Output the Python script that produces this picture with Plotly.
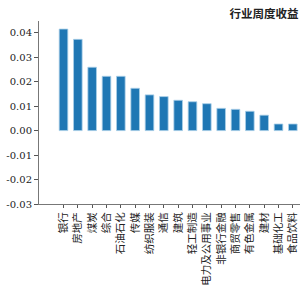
import plotly.graph_objects as go

categories = ["银行", "房地产", "煤炭", "综合", "石油石化", "传媒", "纺织服装", "通信", "建筑",
              "轻工制造", "电力及公用事业", "非银行金融", "商贸零售", "有色金属", "建材", "基础化工", "食品饮料"]
values = [0.0415, 0.0373, 0.0259, 0.0222, 0.0222, 0.0173, 0.0146, 0.0139, 0.0124,
          0.0118, 0.0110, 0.0091, 0.0087, 0.0079, 0.0063, 0.0027, 0.0027]
y_ticks = [0.04, 0.03, 0.02, 0.01, 0.00, -0.01, -0.02, -0.03]
title = "行业周度收益"

x_idx = list(range(len(categories)))

fig = go.Figure(go.Bar(
    x=x_idx, y=values, width=0.6,
    marker=dict(color="#1f77b4", line=dict(color="#a9cfe8", width=0.8)),
))
fig.update_layout(
    width=300, height=300,
    margin=dict(l=39, r=0, t=21, b=96),
    paper_bgcolor="white", plot_bgcolor="white",
    showlegend=False,
    font=dict(family="DejaVu Serif, Noto Sans CJK SC", color="#222", size=10),
    title=dict(text="<b>" + title + "</b>", x=0.995, xanchor="right", y=0.955, yanchor="middle",
               font=dict(size=11.5, family="Noto Sans CJK SC", color="#222")),
)
fig.update_xaxes(
    range=[-1.71, 16.5], tickmode="array", tickvals=x_idx, ticktext=categories,
    tickangle=-90, ticks="outside", ticklen=3, tickcolor="#555",
    showline=True, linecolor="#777", linewidth=1, showgrid=False, zeroline=False,
    tickfont=dict(size=10.5, family="Noto Sans CJK SC", color="#222"),
)
fig.update_yaxes(
    range=[-0.03, 0.0448], tickmode="array", tickvals=y_ticks,
    ticktext=[f"{v:.2f}" for v in y_ticks],
    ticks="outside", ticklen=4, tickcolor="#555",
    showline=True, linecolor="#777", linewidth=1, showgrid=False, zeroline=False,
    tickfont=dict(size=10, family="DejaVu Serif", color="#222"),
)
fig.write_html("out.html")
